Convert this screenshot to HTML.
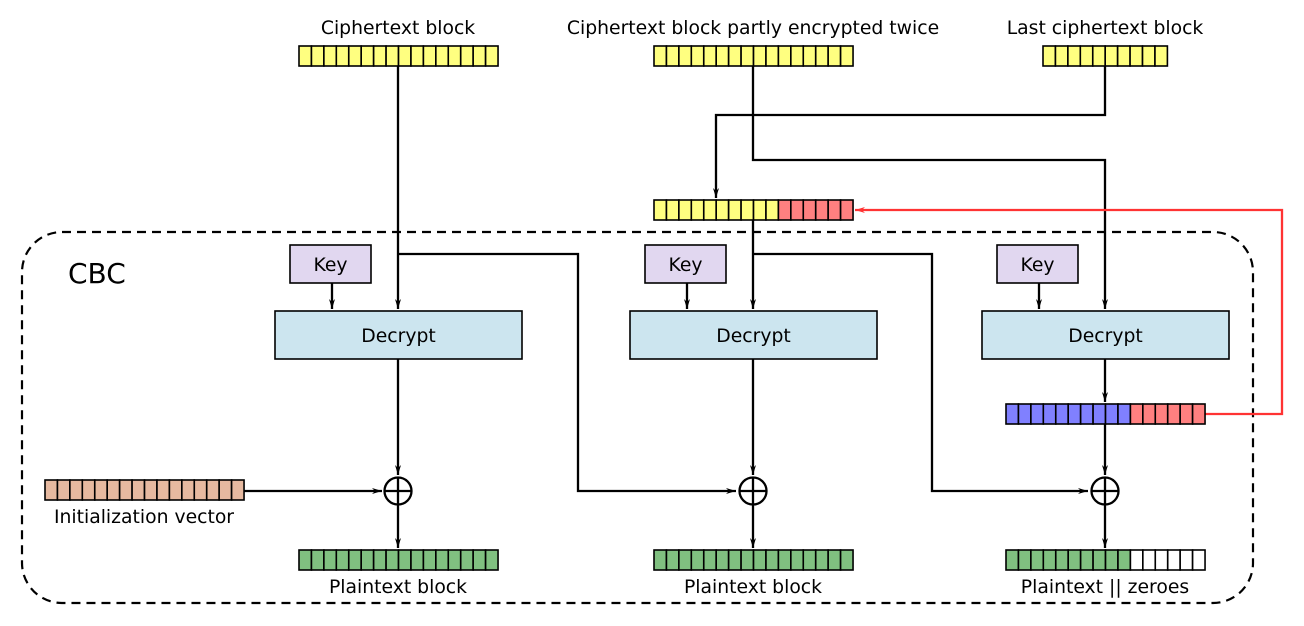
<!DOCTYPE html>
<html><head><meta charset="utf-8"><style>
body{margin:0;background:#fff;width:1304px;height:626px;overflow:hidden}
svg{display:block;font-family:"DejaVu Sans","Liberation Sans",sans-serif}
</style></head><body>
<svg id="s" width="1304" height="626" viewBox="0 0 1304 626" xmlns="http://www.w3.org/2000/svg">
<defs><marker id="a" viewBox="0 0 10 6" refX="10" refY="3" markerWidth="10" markerHeight="6" orient="auto" markerUnits="userSpaceOnUse"><path d="M0,0 L10,3 L0,6 L3,3 z" fill="#000"/></marker>
<marker id="ar" viewBox="0 0 10 6" refX="10" refY="3" markerWidth="10" markerHeight="6" orient="auto" markerUnits="userSpaceOnUse"><path d="M0,0 L10,3 L0,6 L3,3 z" fill="#f33"/></marker></defs>
<rect x="22" y="232" width="1231" height="371" rx="40" fill="none" stroke="#000" stroke-width="2.2" stroke-dasharray="9,6"/>
<text x="68" y="283" font-size="28">CBC</text>
<g fill="none" stroke="#000" stroke-width="2.3">
<path d="M398,66 V309" marker-end="url(#a)"/>
<path d="M398,254 H578 V491 H736" marker-end="url(#a)"/>
<path d="M753,66 V160 H1105 V309" marker-end="url(#a)"/>
<path d="M1105,66 V115 H716 V198" marker-end="url(#a)"/>
<path d="M753,220 V309" marker-end="url(#a)"/>
<path d="M753,254 H932 V491 H1088" marker-end="url(#a)"/>
<path d="M332,283 V309" marker-end="url(#a)"/>
<path d="M687,283 V309" marker-end="url(#a)"/>
<path d="M1039,283 V309" marker-end="url(#a)"/>
<path d="M398,359 V475" marker-end="url(#a)"/>
<path d="M753,359 V475" marker-end="url(#a)"/>
<path d="M1105,359 V402" marker-end="url(#a)"/>
<path d="M1105,424 V475" marker-end="url(#a)"/>
<path d="M398,505 V548" marker-end="url(#a)"/>
<path d="M753,505 V548" marker-end="url(#a)"/>
<path d="M1105,505 V548" marker-end="url(#a)"/>
<path d="M243,491 H382" marker-end="url(#a)"/>
</g>
<path d="M1205,414 H1282 V210 H855" fill="none" stroke="#f33" stroke-width="2.3" marker-end="url(#ar)"/>
<g id="boxes" font-size="18.8" text-anchor="middle"></g>
<g id="cells"></g>
<g font-size="18.8" text-anchor="middle">
<text x="398" y="34">Ciphertext block</text>
<text x="753" y="34">Ciphertext block partly encrypted twice</text>
<text x="1105" y="34">Last ciphertext block</text>
<text x="144" y="523">Initialization vector</text>
<text x="398" y="593">Plaintext block</text>
<text x="753" y="593">Plaintext block</text>
<text x="1105" y="593">Plaintext || zeroes</text>
</g>
</svg>
<script>
const NS="http://www.w3.org/2000/svg";
const Y="#ffff80",R="#ff8080",B="#8080ff",G="#80c080",W="#ffffff",O="#e6b9a0";
const rows=[
 ["ciphertext-block",299,46,[[Y,16]]],
 ["partly-encrypted-block",654,46,[[Y,16]]],
 ["last-ciphertext-block",1043,46,[[Y,10]]],
 ["mixed-block",654,200,[[Y,10],[R,6]]],
 ["decrypted-last-block",1006,404,[[B,10],[R,6]]],
 ["iv-block",45,480,[[O,16]]],
 ["plaintext-block-1",299,550,[[G,16]]],
 ["plaintext-block-2",654,550,[[G,16]]],
 ["plaintext-zeroes-block",1006,550,[[G,10],[W,6]]]
];
const cw=12.44,g=document.getElementById('cells');
rows.forEach(r=>{let x=r[1];const grp=document.createElementNS(NS,'g');


r[3].forEach(([c,n])=>{for(let i=0;i<n;i++){const e=document.createElementNS(NS,'rect');
e.setAttribute('x',x);e.setAttribute('y',r[2]);e.setAttribute('width',cw);e.setAttribute('height',20);
e.setAttribute('fill',c);e.setAttribute('stroke','#000');e.setAttribute('stroke-width','1.6');grp.appendChild(e);x+=cw;}});
g.appendChild(grp);});
const bx=document.getElementById('boxes');
function box(name,x,y,w,h,fill,label){const e=document.createElementNS(NS,'rect');
e.setAttribute('x',x);e.setAttribute('y',y);e.setAttribute('width',w);e.setAttribute('height',h);
e.setAttribute('fill',fill);e.setAttribute('stroke','#000');e.setAttribute('stroke-width','1.6');


bx.appendChild(e);const t=document.createElementNS(NS,'text');t.setAttribute('x',x+w/2);t.setAttribute('y',y+h/2+7);t.textContent=label;bx.appendChild(t);}
[[290,645],[645,0],[997,0]].forEach((k,i)=>box('key-box-'+(i+1),k[0],245,81,38,'#e1d7f0','Key'));
[275,630,982].forEach((x,i)=>box('decrypt-box-'+(i+1),x,311,247,48,'#cce5ef','Decrypt'));
[398,753,1105].forEach((cx,i)=>{const c=document.createElementNS(NS,'g');


c.innerHTML=`<circle cx="${cx}" cy="491" r="13.5" fill="#fff" stroke="#000" stroke-width="2.3"/><path d="M${cx-13.5},491 H${cx+13.5} M${cx},477.5 V504.5" stroke="#000" stroke-width="2.3"/>`;
bx.appendChild(c);});
</script>
</body></html>
